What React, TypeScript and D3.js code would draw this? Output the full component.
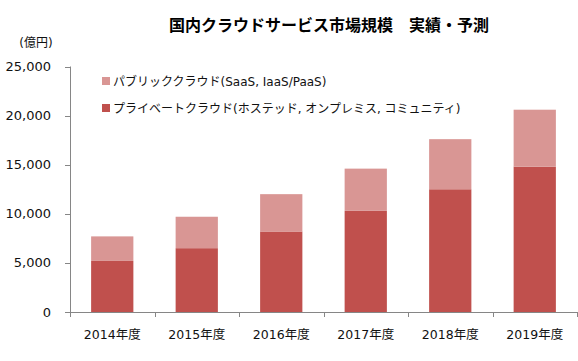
import React from "react";
import * as d3 from "d3";

const title = "国内クラウドサービス市場規模\u3000実績・予測";
const unitLabel = "(億円)";
const categories = ["2014年度", "2015年度", "2016年度", "2017年度", "2018年度", "2019年度"];
const privateValues = [5200, 6500, 8200, 10300, 12500, 14800];
const publicValues = [2500, 3200, 3800, 4300, 5100, 5800];
const yTicks = [0, 5000, 10000, 15000, 20000, 25000];
const seriesNames = [
  "パブリッククラウド(SaaS, IaaS/PaaS)",
  "プライベートクラウド(ホステッド, オンプレミス, コミュニティ)",
];
const colors = { private: "#C0504D", public: "#D99694" };

const W = 578;
const H = 361;
const left = 70;
const right = 577;
const top = 66.5;
const bottom = 312;
const FONT = "'DejaVu Sans', 'Noto Sans CJK JP', sans-serif";
const CJK = "'Noto Sans CJK JP', sans-serif";

export default function App() {
  const x = d3.scaleBand<string>().domain(categories).range([left, right]).paddingInner(0.5).paddingOuter(0.25);
  const y = d3.scaleLinear().domain([0, 25000]).range([bottom, top]);
  const fmt = d3.format(",");
  const rows = categories.map((c, i) => ({ c, p: privateValues[i], q: publicValues[i] }));
  const stack = d3.stack<any>().keys(["p", "q"])(rows);
  const fills = [colors.private, colors.public];
  const step = x.step();
  const boundaries = d3.range(categories.length + 1).map((i) => left + i * step);
  const axisColor = "#868686";
  const textColor = "#111";

  return (
    <svg width={W} height={H} style={{ position: "absolute", left: 0, top: 0, background: "#fff" }}>
      <text x={329} y={31} textAnchor="middle" fontFamily={CJK} fontWeight="bold" fontSize={16} fill="#000">
        {title}
      </text>
      <text x={36} y={47} textAnchor="middle" fontFamily={FONT} fontSize={12} fill={textColor}>
        {unitLabel}
      </text>
      {stack.map((s, si) =>
        s.map((d, i) => (
          <rect
            key={si + "-" + i}
            x={x(categories[i])}
            width={x.bandwidth()}
            y={y(d[1])}
            height={y(d[0]) - y(d[1])}
            fill={fills[si]}
          />
        ))
      )}
      {/* y axis */}
      <line x1={left + 0.5} x2={left + 0.5} y1={top} y2={bottom} stroke={axisColor} />
      {yTicks.map((t) => (
        <g key={t}>
          <line x1={left - 5} x2={left} y1={Math.round(y(t)) + 0.5} y2={Math.round(y(t)) + 0.5} stroke={axisColor} />
          <text x={51} y={y(t) + 4.5} textAnchor="end" fontFamily={FONT} fontSize={13} fill={textColor}>
            {fmt(t)}
          </text>
        </g>
      ))}
      {/* x axis */}
      <line x1={left} x2={right} y1={bottom + 0.5} y2={bottom + 0.5} stroke={axisColor} />
      {boundaries.map((b, i) => (
        <line key={i} x1={Math.round(b) + 0.5} x2={Math.round(b) + 0.5} y1={bottom} y2={bottom + 5} stroke={axisColor} />
      ))}
      {categories.map((c) => (
        <text key={c} x={(x(c) as number) + x.bandwidth() / 2} y={338.5} textAnchor="middle" fontFamily={FONT} fontSize={12.5} fill={textColor}>
          {c}
        </text>
      ))}
      {/* legend */}
      {seriesNames.map((n, i) => (
        <g key={n}>
          <rect x={102} y={77 + i * 27} width={8} height={8} fill={i === 0 ? colors.public : colors.private} />
          <text x={113} y={85.5 + i * 27} fontFamily={FONT} fontSize={12} fill={textColor}>
            {n}
          </text>
        </g>
      ))}
    </svg>
  );
}
